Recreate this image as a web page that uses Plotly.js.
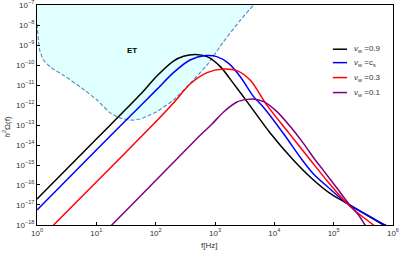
<!DOCTYPE html>
<html>
<head>
<meta charset="utf-8">
<script src="https://cdn.plot.ly/plotly-3.0.1.min.js"></script>
<style>html,body{margin:0;padding:0;background:#fff;}#chart{width:400px;height:253px;}</style>
</head>
<body>
<div id="chart"></div>
<script>
// Black: v_w = 0.9
const fBlack = [1, 10, 55, 104.7, 199.5, 295, 468, 733, 1230, 2042, 3467, 8511, 20890, 45710, 87100, 167900, 363100, 691800, 1e6];
const oBlack = [2.0e-17, 2.0e-14, 3.31e-12, 2.82e-11, 1.58e-10, 2.75e-10, 3.39e-10, 2.63e-10, 8.32e-11, 1.20e-11, 1.48e-12, 3.98e-14, 1.78e-15, 1.78e-16, 3.80e-17, 1.20e-17, 3.16e-18, 1.0e-18, 5.0e-19];
// Blue: v_w = c_s
const fBlue = [1, 10, 55, 104.7, 199.5, 380.2, 692, 1072, 1698, 2692, 4467, 6607, 14450, 29510, 45710, 87100, 167900, 363100, 741300, 1e6];
const oBlue = [5.62e-18, 5.62e-15, 8.91e-13, 6.03e-12, 4.17e-11, 1.78e-10, 2.95e-10, 2.63e-10, 1.20e-10, 2.51e-11, 2.63e-12, 7.59e-13, 3.55e-14, 1.78e-15, 3.55e-16, 6.31e-17, 1.20e-17, 3.16e-18, 1.0e-18, 5.62e-19];
// Red: v_w = 0.3
const fRed = [1, 1.905, 10, 92.3, 199.5, 380.2, 733, 1396, 2344, 3981, 7534, 17380, 40460, 83180, 167900, 281800, 467700, 631000];
const oRed = [1.41e-19, 1.0e-18, 1.41e-16, 1.12e-13, 1.26e-12, 1.12e-11, 4.17e-11, 6.31e-11, 5.25e-11, 1.66e-11, 9.55e-13, 4.17e-14, 1.78e-15, 1.26e-16, 1.20e-17, 3.16e-18, 1.0e-18, 4.47e-19];
// Purple: v_w = 0.1
const fPurple = [10, 18.2, 100, 568.9, 891, 1396, 2344, 3467, 4365, 6607, 11090, 18620, 30900, 48980, 67610, 120200, 177800, 263000, 338800, 398100];
const oPurple = [1.66e-19, 1.0e-18, 1.66e-16, 3.16e-14, 1.12e-13, 4.47e-13, 1.41e-12, 1.91e-12, 2.0e-12, 1.48e-12, 4.68e-13, 8.32e-14, 1.20e-14, 1.78e-15, 5.25e-16, 5.62e-17, 1.20e-17, 3.16e-18, 1.0e-18, 5.62e-19];
// ET sensitivity curve
const fET = [1, 1.107, 1.288, 1.675, 2.818, 5.37, 10.23, 17.18, 26.92, 39.81, 54.95, 79.43, 104.7, 199.5, 380.2, 732.8, 1396, 2692, 4467];
const oET = [1.12e-8, 5.62e-10, 1.78e-10, 7.94e-11, 3.02e-11, 7.94e-12, 1.78e-12, 3.98e-13, 2.09e-13, 1.74e-13, 2.0e-13, 3.16e-13, 4.68e-13, 1.78e-12, 1.20e-11, 1.0e-10, 1.48e-9, 1.78e-8, 1.0e-7];
const fETTop = [1, 4467];
const oETTop = [1.0e-7, 1.0e-7];

// Tick labels
const xTickVals = [1, 10, 100, 1000, 10000, 100000, 1000000];
const xTickText = ['10<sup>0</sup>', '10<sup>1</sup>', '10<sup>2</sup>', '10<sup>3</sup>', '10<sup>4</sup>', '10<sup>5</sup>', '10<sup>6</sup>'];
const yTickVals = [1e-18, 1e-17, 1e-16, 1e-15, 1e-14, 1e-13, 1e-12, 1e-11, 1e-10, 1e-9, 1e-8, 1e-7];
const yTickText = ['10<sup>−18</sup>', '10<sup>−17</sup>', '10<sup>−16</sup>', '10<sup>−15</sup>', '10<sup>−14</sup>', '10<sup>−13</sup>',
                   '10<sup>−12</sup>', '10<sup>−11</sup>', '10<sup>−10</sup>', '10<sup>−9</sup>', '10<sup>−8</sup>', '10<sup>−7</sup>'];

const seriesNames = ['<i>v</i><sub>w</sub> =0.9', '<i>v</i><sub>w</sub> =c<sub>s</sub>', '<i>v</i><sub>w</sub> =0.3', '<i>v</i><sub>w</sub> =0.1'];
const seriesColors = ['#000000', '#0000ff', '#ff0000', '#800080'];
const xTitle = 'f[Hz]';
const yTitle = '<i>h</i><sup>2</sup>Ω(f)';
const etLabel = 'ET';

const F = 'Liberation Sans, Arial, sans-serif';

const traces = [
  {x: fETTop, y: oETTop, mode: 'lines', line: {width: 0}, hoverinfo: 'skip', showlegend: false},
  {x: fET, y: oET, mode: 'lines', fill: 'tonexty', fillcolor: 'rgb(224,255,255)',
   line: {color: 'rgb(100,140,200)', width: 1.2, dash: '4px,2px', shape: 'spline', smoothing: 0.6}, showlegend: false},
];
const xs = [fBlack, fBlue, fRed, fPurple];
const ys = [oBlack, oBlue, oRed, oPurple];
for (let i = 0; i < 4; i++) {
  traces.push({x: xs[i], y: ys[i], mode: 'lines', name: seriesNames[i],
    line: {color: seriesColors[i], width: 1.5, shape: 'spline', smoothing: 0.8}, showlegend: false});
}

const legX0 = 0.831, legX1 = 0.871, legTX = 0.885;
const legY = [0.799, 0.738, 0.670, 0.602];
const shapes = [];
const annotations = [];
for (let i = 0; i < 4; i++) {
  shapes.push({type: 'line', xref: 'paper', yref: 'paper', x0: legX0, x1: legX1, y0: legY[i], y1: legY[i],
    line: {color: seriesColors[i], width: 1.5}});
  annotations.push({xref: 'paper', yref: 'paper', x: legTX, y: legY[i], xanchor: 'left', yanchor: 'middle',
    text: seriesNames[i], showarrow: false, font: {family: F, size: 8, color: '#333'}});
}
annotations.push({xref: 'x', yref: 'y', x: 1.6, y: -9.25, text: '<b>' + etLabel + '</b>', showarrow: false,
  font: {family: F, size: 8, color: '#000'}});
annotations.push({xref: 'paper', yref: 'paper', x: -0.087, y: 0.443, text: yTitle, textangle: -90, showarrow: false,
  xanchor: 'center', yanchor: 'middle', font: {family: F, size: 8, color: '#333'}});
annotations.push({xref: 'paper', yref: 'paper', x: 0.483, y: -0.095, text: xTitle, showarrow: false,
  xanchor: 'center', yanchor: 'middle', font: {family: F, size: 8, color: '#333'}});

const axisCommon = {
  type: 'log', tickmode: 'array', ticks: 'inside', ticklen: 3, tickcolor: '#000',
  showgrid: false, zeroline: false, showline: true, linecolor: '#000', linewidth: 1, mirror: true,
  ticklabeloverflow: 'allow',
  tickfont: {family: F, size: 8, color: '#333'}
};

const layout = {
  width: 400, height: 253,
  margin: {l: 37, r: 7, t: 5, b: 28},
  paper_bgcolor: '#fff', plot_bgcolor: '#fff',
  xaxis: Object.assign({}, axisCommon, {range: [-0.0005, 6.0005], tickvals: xTickVals, ticktext: xTickText}),
  yaxis: Object.assign({}, axisCommon, {range: [-18.0005, -6.9995], tickvals: yTickVals, ticktext: yTickText}),
  shapes: shapes,
  annotations: annotations,
  showlegend: false
};

Plotly.newPlot('chart', traces, layout, {staticPlot: true, displayModeBar: false});
</script>
</body>
</html>
